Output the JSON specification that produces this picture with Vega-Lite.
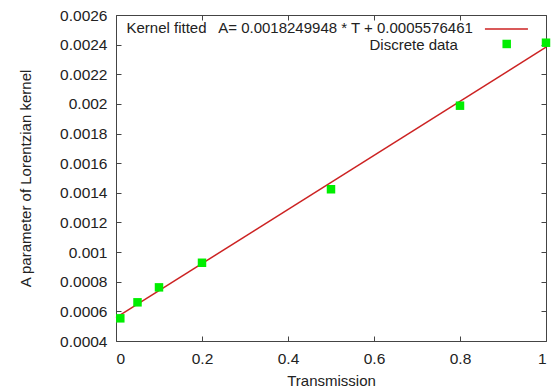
{
  "$schema": "https://vega.github.io/schema/vega-lite/v6.json",
  "width": 430,
  "height": 326,
  "autosize": "none",
  "padding": {"left": 116, "top": 15, "right": 5, "bottom": 51},
  "config": {
    "font": "Liberation Sans",
    "view": {"stroke": "#444444", "strokeWidth": 1},
    "axis": {
      "grid": false,
      "domain": false,
      "tickColor": "#444444",
      "tickSize": -5,
      "labelFont": "Liberation Sans",
      "labelFontSize": 15.5,
      "labelColor": "#222222",
      "titleFont": "Liberation Sans",
      "titleFontSize": 15,
      "titleFontWeight": "normal",
      "titleColor": "#222222"
    }
  },
  "datasets": {
    "points": [
      {"T": 0.01, "A": 0.000553},
      {"T": 0.05, "A": 0.000661},
      {"T": 0.1, "A": 0.000762},
      {"T": 0.2, "A": 0.000928},
      {"T": 0.5, "A": 0.001424},
      {"T": 0.8, "A": 0.001988},
      {"T": 1.0, "A": 0.002413}
    ],
    "fit": [
      {"T": 0, "A": 0.0005576461},
      {"T": 1, "A": 0.0023826409}
    ],
    "legendLine": [
      {"T": 0.858, "A": 0.002506},
      {"T": 0.958, "A": 0.002506}
    ],
    "legendPoint": [
      {"T": 0.9086, "A": 0.0024045}
    ],
    "legendText": [
      {"T": 0.83, "A": 0.00251, "label": "Kernel fitted\u00a0\u00a0 A= 0.0018249948 * T + 0.0005576461"},
      {"T": 0.795, "A": 0.0024, "label": "Discrete data"}
    ]
  },
  "layer": [
    {
      "data": {"name": "fit"},
      "mark": {"type": "line", "color": "#cc2222", "strokeWidth": 1.5},
      "encoding": {
        "x": {
          "field": "T", "type": "quantitative",
          "scale": {"domain": [0, 1], "nice": false, "zero": false},
          "axis": {
            "orient": "bottom",
            "title": "Transmission",
            "values": [0, 0.2, 0.4, 0.6, 0.8, 1],
            "format": "~f",
            "labelPadding": 15,
            "titleY": 32
          }
        },
        "y": {
          "field": "A", "type": "quantitative",
          "scale": {"domain": [0.0004, 0.0026], "nice": false, "zero": false},
          "axis": {
            "orient": "left",
            "title": "A parameter of Lorentzian kernel",
            "values": [0.0004, 0.0006, 0.0008, 0.001, 0.0012, 0.0014, 0.0016, 0.0018, 0.002, 0.0022, 0.0024, 0.0026],
            "format": "~f",
            "labelPadding": 14,
            "titleX": -83
          }
        }
      }
    },
    {
      "data": {"name": "points"},
      "mark": {"type": "square", "color": "#00ee00", "filled": true, "opacity": 1, "size": 72},
      "encoding": {
        "x": {"field": "T", "type": "quantitative", "axis": null},
        "y": {"field": "A", "type": "quantitative", "axis": null}
      }
    },
    {
      "data": {"name": "legendLine"},
      "mark": {"type": "line", "color": "#cc2222", "strokeWidth": 1.5},
      "encoding": {
        "x": {"field": "T", "type": "quantitative", "axis": null},
        "y": {"field": "A", "type": "quantitative", "axis": null}
      }
    },
    {
      "data": {"name": "legendPoint"},
      "mark": {"type": "square", "color": "#00ee00", "filled": true, "opacity": 1, "size": 72},
      "encoding": {
        "x": {"field": "T", "type": "quantitative", "axis": null},
        "y": {"field": "A", "type": "quantitative", "axis": null}
      }
    },
    {
      "data": {"name": "legendText"},
      "mark": {"type": "text", "align": "right", "baseline": "middle", "fontSize": 15, "font": "Liberation Sans", "color": "#222222"},
      "encoding": {
        "x": {"field": "T", "type": "quantitative", "axis": null},
        "y": {"field": "A", "type": "quantitative", "axis": null},
        "text": {"field": "label", "type": "nominal"}
      }
    },
    {
      "data": {"name": "points"},
      "mark": {"type": "point", "opacity": 0},
      "encoding": {
        "x": {
          "field": "T", "type": "quantitative",
          "axis": {"orient": "top", "labels": false, "title": null, "values": [0, 0.2, 0.4, 0.6, 0.8, 1]}
        },
        "y": {
          "field": "A", "type": "quantitative",
          "axis": {"orient": "right", "labels": false, "title": null, "values": [0.0004, 0.0006, 0.0008, 0.001, 0.0012, 0.0014, 0.0016, 0.0018, 0.002, 0.0022, 0.0024, 0.0026]}
        }
      }
    }
  ],
  "resolve": {"axis": {"x": "independent", "y": "independent"}}
}
